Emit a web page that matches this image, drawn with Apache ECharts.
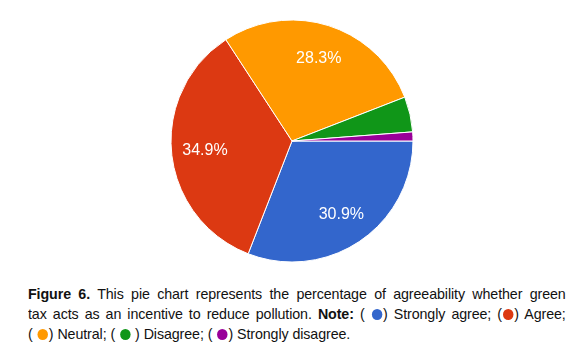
<!DOCTYPE html>
<html>
<head>
<meta charset="utf-8">
<title>Green tax agreeability pie</title>
<script src="https://cdn.jsdelivr.net/npm/echarts@6/dist/echarts.min.js"></script>
<style>
  body { margin: 0; background: #fff; }
  #main { width: 580px; height: 280px; }
  /* the caption font in the figure is a bit narrower than Liberation Sans */
  #caption { position: absolute; left: 28px; top: 284px; width: 566px;
    transform: scaleX(0.95); transform-origin: 0 0;
    font-family: "Liberation Sans", Arial, sans-serif; font-size: 15px; line-height: 20px;
    letter-spacing: -0.1px; color: #111; }
  #caption span.line { display: block; white-space: nowrap; text-align: justify; text-align-last: justify; }
  #caption span.last { text-align-last: left; }
  .dot { display: inline-block; width: 11px; height: 11px; border-radius: 50%; vertical-align: -1px; margin: 0 1px; }
</style>
</head>
<body>
<div id="main"></div>
<div id="caption">
  <span class="line"><b>Figure 6.</b> This pie chart represents the percentage of agreeability whether green</span>
  <span class="line">tax acts as an incentive to reduce pollution. <b>Note:</b> ( <i class="dot" style="background:#3366cc"></i>) Strongly agree; (<i class="dot" style="background:#dc3912"></i>) Agree;</span>
  <span class="line last">( <i class="dot" style="background:#ff9900"></i>) Neutral; ( <i class="dot" style="background:#109618"></i> ) Disagree; ( <i class="dot" style="background:#990099"></i>) Strongly disagree.</span>
</div>
<script type="text/javascript">
  // answers, clockwise from 3 o'clock
  var categories = ['Strongly agree', 'Agree', 'Neutral', 'Disagree', 'Strongly disagree'];
  var percents = [30.9, 34.9, 28.3, 4.7, 1.2];
  var colors = ['#3366cc', '#dc3912', '#ff9900', '#109618', '#990099'];

  var pieData = categories.map(function (name, i) {
    return { name: name, value: percents[i], itemStyle: { color: colors[i] } };
  });
  // same slices, only used to place the labels further out
  var labelData = categories.map(function (name, i) {
    return { name: name, value: percents[i], label: { show: percents[i] >= 5 } };
  });

  var myChart = echarts.init(document.getElementById('main'));
  myChart.setOption({
    animation: false,
    series: [
      {
        type: 'pie',
        center: [292, 141],
        radius: [0, 121],
        startAngle: 0,
        clockwise: true,
        silent: true,
        label: { show: false },
        labelLine: { show: false },
        itemStyle: { borderColor: '#fff', borderWidth: 1 },
        data: pieData
      },
      {
        type: 'pie',
        center: [292, 142],
        radius: [48, 121],
        startAngle: 0,
        clockwise: true,
        silent: true,
        itemStyle: { color: 'rgba(0,0,0,0)' },
        label: {
          position: 'inside',
          color: '#fff',
          fontSize: 16,
          fontFamily: 'Liberation Sans, Arial, sans-serif',
          formatter: function (p) { return p.value.toFixed(1) + '%'; }
        },
        labelLine: { show: false },
        data: labelData
      }
    ]
  });
</script>
</body>
</html>
